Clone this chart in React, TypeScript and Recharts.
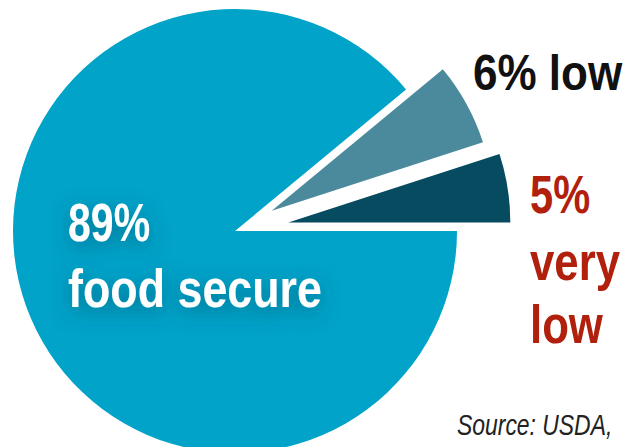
import { PieChart, Pie, Cell } from "recharts";

const categories = ["very low", "low", "food secure"];
const shares = [5, 6, 89];
const sliceColors = ["#074B61", "#4A8A9C", "#01A3C9"];

const W = 637;
const H = 447;
const CX = 235;
const CY = 231;
const R = 222;
// how far each small slice is pulled out of the pie
const explode = [54, 42];

const data = categories.map((name, i) => ({ name, value: shares[i] }));
const total = shares.reduce((a, b) => a + b, 0);

function sliceAngles(i: number) {
  const before = shares.slice(0, i).reduce((a, b) => a + b, 0);
  const start = (before / total) * 360;
  const end = ((before + shares[i]) / total) * 360;
  return { start, end, mid: (start + end) / 2 };
}

// narrow text: the original uses a condensed face, so squeeze horizontally
function Narrow({ x, y, sx, children, ...rest }: any) {
  return (
    <text transform={`translate(${x},${y}) scale(${sx},1)`} x={0} y={0} {...rest}>
      {children}
    </text>
  );
}

export default function App() {
  const font = "'Liberation Sans', Arial, sans-serif";
  return (
    <div style={{ position: "absolute", left: 0, top: 0, width: W, height: H, background: "#fff" }}>
      <PieChart width={W} height={H} margin={{ top: 0, right: 0, bottom: 0, left: 0 }}>
        {/* big slice; the small ones are left empty here and drawn pulled out below */}
        <Pie
          data={data}
          dataKey="value"
          cx={CX}
          cy={CY}
          outerRadius={R}
          startAngle={0}
          endAngle={360}
          stroke="none"
          isAnimationActive={false}
        >
          {data.map((d, i) => (
            <Cell key={d.name} fill={i === 2 ? sliceColors[i] : "transparent"} />
          ))}
        </Pie>
        {[0, 1].map((i) => {
          const a = sliceAngles(i);
          const rad = (a.mid * Math.PI) / 180;
          return (
            <Pie
              key={categories[i]}
              data={[data[i]]}
              dataKey="value"
              cx={CX + explode[i] * Math.cos(rad)}
              cy={CY - explode[i] * Math.sin(rad)}
              outerRadius={R}
              startAngle={a.start}
              endAngle={a.end}
              stroke="none"
              isAnimationActive={false}
            >
              <Cell fill={sliceColors[i]} />
            </Pie>
          );
        })}
      </PieChart>

      <svg width={W} height={H} style={{ position: "absolute", left: 0, top: 0, pointerEvents: "none" }}>
        <defs>
          <filter id="shade" x="-20%" y="-40%" width="140%" height="180%">
            <feDropShadow dx="0" dy="6" stdDeviation="10" floodColor="#004257" floodOpacity="0.5" />
          </filter>
        </defs>
        <g fill="#fff" fontFamily={font} fontWeight="bold" fontSize={54} filter="url(#shade)">
          <Narrow x={68} y={241} sx={0.76}>{shares[2]}%</Narrow>
          <Narrow x={68} y={307} sx={0.83}>{categories[2]}</Narrow>
        </g>
        <Narrow x={473} y={90} sx={0.88} fill="#111" fontFamily={font} fontWeight="bold" fontSize={50}>
          {shares[1]}% {categories[1]}
        </Narrow>
        <g fill="#B0200C" fontFamily={font} fontWeight="bold" fontSize={54}>
          <Narrow x={530} y={213} sx={0.77}>{shares[0]}%</Narrow>
          <Narrow x={530} y={280} sx={0.81}>{categories[0].split(" ")[0]}</Narrow>
          <Narrow x={530} y={343} sx={0.81}>{categories[0].split(" ")[1]}</Narrow>
        </g>
        <Narrow x={457} y={435} sx={0.79} fill="#222" fontFamily={font} fontStyle="italic" fontSize={29}>
          Source: USDA,
        </Narrow>
      </svg>
    </div>
  );
}
